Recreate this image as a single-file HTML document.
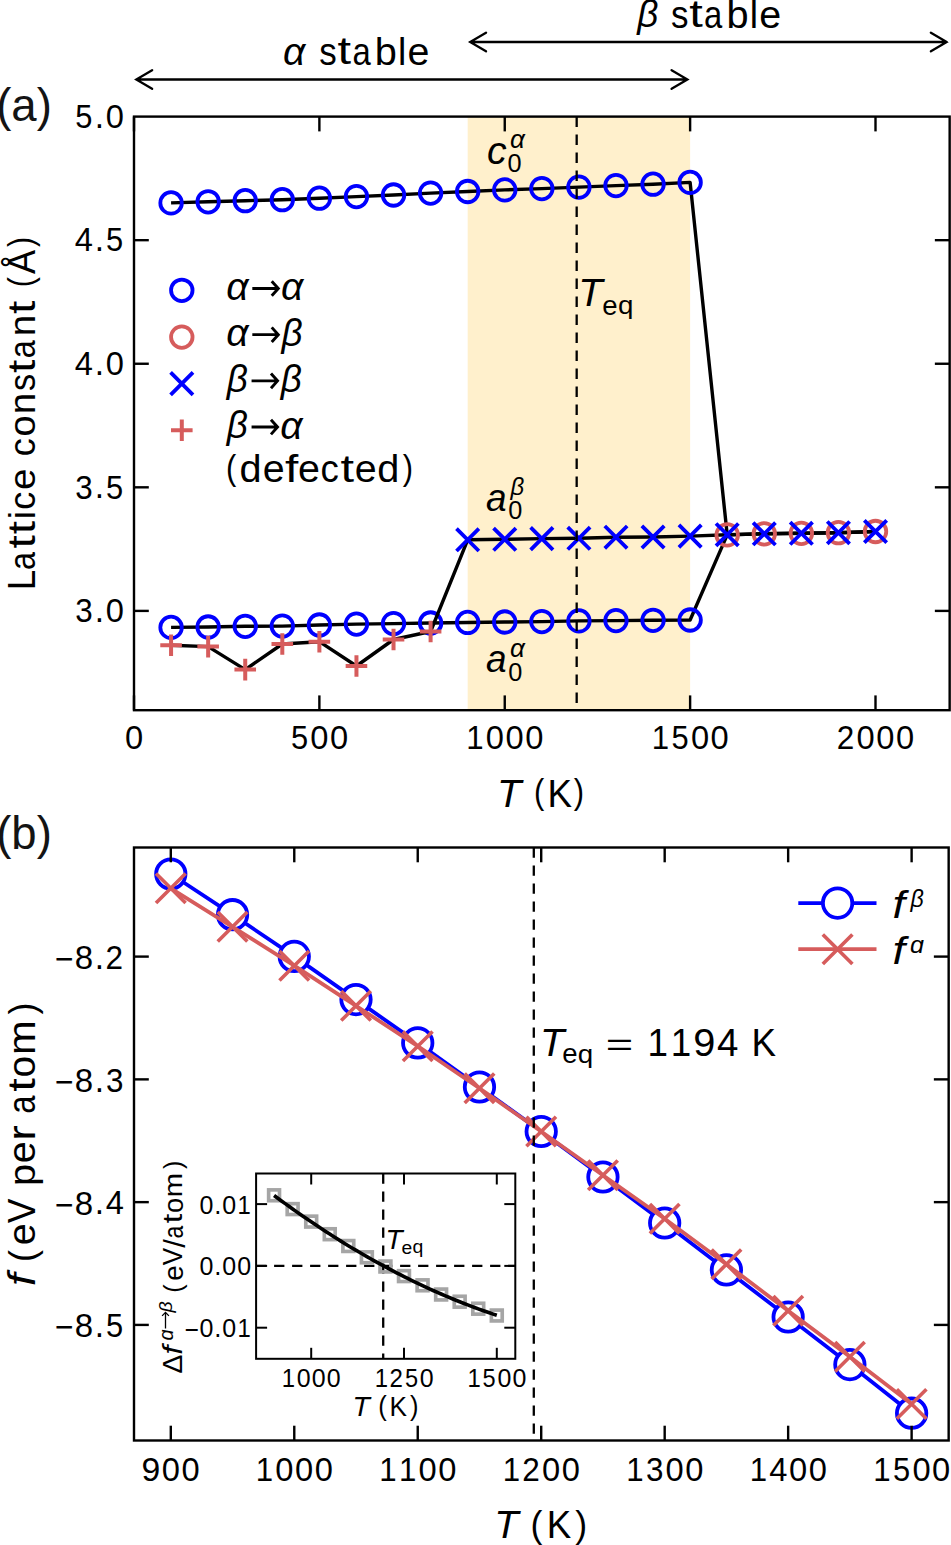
<!DOCTYPE html>
<html><head><meta charset="utf-8"><style>
html,body{margin:0;padding:0;background:#fff;width:951px;height:1545px;overflow:hidden}
svg{display:block}
text{font-family:"Liberation Sans",sans-serif;fill:#000}
text.i{font-style:italic}
.lab{font-family:"Liberation Sans",sans-serif;fill:#141414}
</style></head><body>
<svg width="951" height="1545" viewBox="0 0 951 1545">
<rect width="951" height="1545" fill="#fff"/>
<rect x="467.68" y="116.60" width="222.45" height="593.60" fill="#fff0cc"/>
<polyline points="171.07,202.9 208.15,201.8 245.23,200.7 282.3,199.7 319.38,198.2 356.45,196.6 393.53,195 430.6,193.1 467.68,191.5 504.75,189.9 541.83,188.6 578.9,187.1 615.98,185.6 653.05,184.2 690.12,182.4 727.2,534.9" fill="none" stroke="#000" stroke-width="3.4" stroke-linejoin="round" stroke-linecap="butt"/>
<polyline points="171.07,627.4 208.15,627 245.23,626.3 282.3,626.1 319.38,625 356.45,624.1 393.53,623.6 430.6,623 467.68,622.45 504.75,622 541.83,621.6 578.9,620.9 615.98,620.6 653.05,620.3 690.12,620 727.2,534.9 764.28,533.8 801.35,533.3 838.43,532.7 875.5,531.5" fill="none" stroke="#000" stroke-width="3.4" stroke-linejoin="round" stroke-linecap="butt"/>
<circle cx="171.07" cy="202.9" r="10.75" fill="none" stroke="#0000ff" stroke-width="3.8"/>
<circle cx="208.15" cy="201.8" r="10.75" fill="none" stroke="#0000ff" stroke-width="3.8"/>
<circle cx="245.23" cy="200.7" r="10.75" fill="none" stroke="#0000ff" stroke-width="3.8"/>
<circle cx="282.3" cy="199.7" r="10.75" fill="none" stroke="#0000ff" stroke-width="3.8"/>
<circle cx="319.38" cy="198.2" r="10.75" fill="none" stroke="#0000ff" stroke-width="3.8"/>
<circle cx="356.45" cy="196.6" r="10.75" fill="none" stroke="#0000ff" stroke-width="3.8"/>
<circle cx="393.53" cy="195" r="10.75" fill="none" stroke="#0000ff" stroke-width="3.8"/>
<circle cx="430.6" cy="193.1" r="10.75" fill="none" stroke="#0000ff" stroke-width="3.8"/>
<circle cx="467.68" cy="191.5" r="10.75" fill="none" stroke="#0000ff" stroke-width="3.8"/>
<circle cx="504.75" cy="189.9" r="10.75" fill="none" stroke="#0000ff" stroke-width="3.8"/>
<circle cx="541.83" cy="188.6" r="10.75" fill="none" stroke="#0000ff" stroke-width="3.8"/>
<circle cx="578.9" cy="187.1" r="10.75" fill="none" stroke="#0000ff" stroke-width="3.8"/>
<circle cx="615.98" cy="185.6" r="10.75" fill="none" stroke="#0000ff" stroke-width="3.8"/>
<circle cx="653.05" cy="184.2" r="10.75" fill="none" stroke="#0000ff" stroke-width="3.8"/>
<circle cx="690.12" cy="182.4" r="10.75" fill="none" stroke="#0000ff" stroke-width="3.8"/>
<circle cx="171.07" cy="627.4" r="10.75" fill="none" stroke="#0000ff" stroke-width="3.8"/>
<circle cx="208.15" cy="627" r="10.75" fill="none" stroke="#0000ff" stroke-width="3.8"/>
<circle cx="245.23" cy="626.3" r="10.75" fill="none" stroke="#0000ff" stroke-width="3.8"/>
<circle cx="282.3" cy="626.1" r="10.75" fill="none" stroke="#0000ff" stroke-width="3.8"/>
<circle cx="319.38" cy="625" r="10.75" fill="none" stroke="#0000ff" stroke-width="3.8"/>
<circle cx="356.45" cy="624.1" r="10.75" fill="none" stroke="#0000ff" stroke-width="3.8"/>
<circle cx="393.53" cy="623.6" r="10.75" fill="none" stroke="#0000ff" stroke-width="3.8"/>
<circle cx="430.6" cy="623" r="10.75" fill="none" stroke="#0000ff" stroke-width="3.8"/>
<circle cx="467.68" cy="622.45" r="10.75" fill="none" stroke="#0000ff" stroke-width="3.8"/>
<circle cx="504.75" cy="622" r="10.75" fill="none" stroke="#0000ff" stroke-width="3.8"/>
<circle cx="541.83" cy="621.6" r="10.75" fill="none" stroke="#0000ff" stroke-width="3.8"/>
<circle cx="578.9" cy="620.9" r="10.75" fill="none" stroke="#0000ff" stroke-width="3.8"/>
<circle cx="615.98" cy="620.6" r="10.75" fill="none" stroke="#0000ff" stroke-width="3.8"/>
<circle cx="653.05" cy="620.3" r="10.75" fill="none" stroke="#0000ff" stroke-width="3.8"/>
<circle cx="690.12" cy="620" r="10.75" fill="none" stroke="#0000ff" stroke-width="3.8"/>
<polyline points="171.07,645.2 208.15,646.6 245.23,669.6 282.3,644 319.38,641.7 356.45,666 393.53,639.5 430.6,631.5 467.68,539.8 504.75,539.3 541.83,538.6 578.9,538.3 615.98,537.2 653.05,537 690.12,536.1 727.2,534.7 764.28,533.8 801.35,533.3 838.43,532.7 875.5,531.5" fill="none" stroke="#000" stroke-width="3.4" stroke-linejoin="round" stroke-linecap="butt"/>
<circle cx="727.2" cy="534.9" r="10.75" fill="none" stroke="#d65c5c" stroke-width="3.8"/>
<circle cx="764.28" cy="533.8" r="10.75" fill="none" stroke="#d65c5c" stroke-width="3.8"/>
<circle cx="801.35" cy="533.3" r="10.75" fill="none" stroke="#d65c5c" stroke-width="3.8"/>
<circle cx="838.43" cy="532.7" r="10.75" fill="none" stroke="#d65c5c" stroke-width="3.8"/>
<circle cx="875.5" cy="531.5" r="10.75" fill="none" stroke="#d65c5c" stroke-width="3.8"/>
<path d="M456.48 528.6L478.88 551M456.48 551L478.88 528.6" stroke="#0000ff" stroke-width="3.8" fill="none"/>
<path d="M493.55 528.1L515.95 550.5M493.55 550.5L515.95 528.1" stroke="#0000ff" stroke-width="3.8" fill="none"/>
<path d="M530.62 527.4L553.03 549.8M530.62 549.8L553.03 527.4" stroke="#0000ff" stroke-width="3.8" fill="none"/>
<path d="M567.7 527.1L590.1 549.5M567.7 549.5L590.1 527.1" stroke="#0000ff" stroke-width="3.8" fill="none"/>
<path d="M604.77 526L627.18 548.4M604.77 548.4L627.18 526" stroke="#0000ff" stroke-width="3.8" fill="none"/>
<path d="M641.85 525.8L664.25 548.2M641.85 548.2L664.25 525.8" stroke="#0000ff" stroke-width="3.8" fill="none"/>
<path d="M678.92 524.9L701.33 547.3M678.92 547.3L701.33 524.9" stroke="#0000ff" stroke-width="3.8" fill="none"/>
<path d="M716 523.5L738.4 545.9M716 545.9L738.4 523.5" stroke="#0000ff" stroke-width="3.8" fill="none"/>
<path d="M753.08 522.6L775.48 545M753.08 545L775.48 522.6" stroke="#0000ff" stroke-width="3.8" fill="none"/>
<path d="M790.15 522.1L812.55 544.5M790.15 544.5L812.55 522.1" stroke="#0000ff" stroke-width="3.8" fill="none"/>
<path d="M827.23 521.5L849.63 543.9M827.23 543.9L849.63 521.5" stroke="#0000ff" stroke-width="3.8" fill="none"/>
<path d="M864.3 520.3L886.7 542.7M864.3 542.7L886.7 520.3" stroke="#0000ff" stroke-width="3.8" fill="none"/>
<path d="M160.27 645.2H181.88M171.07 634.4V656" stroke="#d65c5c" stroke-width="4" fill="none"/>
<path d="M197.35 646.6H218.95M208.15 635.8V657.4" stroke="#d65c5c" stroke-width="4" fill="none"/>
<path d="M234.43 669.6H256.03M245.23 658.8V680.4" stroke="#d65c5c" stroke-width="4" fill="none"/>
<path d="M271.5 644H293.1M282.3 633.2V654.8" stroke="#d65c5c" stroke-width="4" fill="none"/>
<path d="M308.57 641.7H330.18M319.38 630.9V652.5" stroke="#d65c5c" stroke-width="4" fill="none"/>
<path d="M345.65 666H367.25M356.45 655.2V676.8" stroke="#d65c5c" stroke-width="4" fill="none"/>
<path d="M382.73 639.5H404.33M393.53 628.7V650.3" stroke="#d65c5c" stroke-width="4" fill="none"/>
<path d="M419.8 631.5H441.4M430.6 620.7V642.3" stroke="#d65c5c" stroke-width="4" fill="none"/>
<line x1="576.68" y1="116.6" x2="576.68" y2="710.2" stroke="#000" stroke-width="2.3" stroke-linecap="butt" stroke-dasharray="10.3 7.7"/>
<rect x="134.0" y="116.6" width="815.65" height="593.60" fill="none" stroke="#000" stroke-width="2.4"/>
<line x1="134" y1="710.2" x2="134" y2="695.4" stroke="#000" stroke-width="2.4" stroke-linecap="butt"/>
<line x1="134" y1="116.6" x2="134" y2="131.4" stroke="#000" stroke-width="2.4" stroke-linecap="butt"/>
<line x1="319.38" y1="710.2" x2="319.38" y2="695.4" stroke="#000" stroke-width="2.4" stroke-linecap="butt"/>
<line x1="319.38" y1="116.6" x2="319.38" y2="131.4" stroke="#000" stroke-width="2.4" stroke-linecap="butt"/>
<line x1="504.75" y1="710.2" x2="504.75" y2="695.4" stroke="#000" stroke-width="2.4" stroke-linecap="butt"/>
<line x1="504.75" y1="116.6" x2="504.75" y2="131.4" stroke="#000" stroke-width="2.4" stroke-linecap="butt"/>
<line x1="690.12" y1="710.2" x2="690.12" y2="695.4" stroke="#000" stroke-width="2.4" stroke-linecap="butt"/>
<line x1="690.12" y1="116.6" x2="690.12" y2="131.4" stroke="#000" stroke-width="2.4" stroke-linecap="butt"/>
<line x1="875.5" y1="710.2" x2="875.5" y2="695.4" stroke="#000" stroke-width="2.4" stroke-linecap="butt"/>
<line x1="875.5" y1="116.6" x2="875.5" y2="131.4" stroke="#000" stroke-width="2.4" stroke-linecap="butt"/>
<line x1="134" y1="240.17" x2="148.8" y2="240.17" stroke="#000" stroke-width="2.4" stroke-linecap="butt"/>
<line x1="949.65" y1="240.17" x2="934.85" y2="240.17" stroke="#000" stroke-width="2.4" stroke-linecap="butt"/>
<line x1="134" y1="363.75" x2="148.8" y2="363.75" stroke="#000" stroke-width="2.4" stroke-linecap="butt"/>
<line x1="949.65" y1="363.75" x2="934.85" y2="363.75" stroke="#000" stroke-width="2.4" stroke-linecap="butt"/>
<line x1="134" y1="487.32" x2="148.8" y2="487.32" stroke="#000" stroke-width="2.4" stroke-linecap="butt"/>
<line x1="949.65" y1="487.32" x2="934.85" y2="487.32" stroke="#000" stroke-width="2.4" stroke-linecap="butt"/>
<line x1="134" y1="610.9" x2="148.8" y2="610.9" stroke="#000" stroke-width="2.4" stroke-linecap="butt"/>
<line x1="949.65" y1="610.9" x2="934.85" y2="610.9" stroke="#000" stroke-width="2.4" stroke-linecap="butt"/>
<g transform="translate(124.14,749.00)"><text class="r" font-size="33.12" transform="translate(0.77,0.12) scale(0.9868,1)">0</text></g>
<g transform="translate(289.79,749.00)"><text class="r" font-size="33.02" transform="translate(1.16,0.12) scale(0.9341,1)">5</text><text class="r" font-size="33.12" transform="translate(20.49,0.12) scale(0.9868,1)">0</text><text class="r" font-size="33.12" transform="translate(40.21,0.12) scale(0.9868,1)">0</text></g>
<g transform="translate(465.30,749.00)"><text class="r" font-size="32.85" transform="translate(1.03,0.00) scale(0.9502,1)">1</text><text class="r" font-size="33.12" transform="translate(20.49,0.12) scale(0.9868,1)">0</text><text class="r" font-size="33.12" transform="translate(40.21,0.12) scale(0.9868,1)">0</text><text class="r" font-size="33.12" transform="translate(59.94,0.12) scale(0.9868,1)">0</text></g>
<g transform="translate(650.68,749.00)"><text class="r" font-size="32.85" transform="translate(1.03,0.00) scale(0.9502,1)">1</text><text class="r" font-size="33.02" transform="translate(20.88,0.12) scale(0.9341,1)">5</text><text class="r" font-size="33.12" transform="translate(40.21,0.12) scale(0.9868,1)">0</text><text class="r" font-size="33.12" transform="translate(59.94,0.12) scale(0.9868,1)">0</text></g>
<g transform="translate(836.05,749.00)"><text class="r" font-size="32.95" transform="translate(0.69,0.00) scale(0.9559,1)">2</text><text class="r" font-size="33.12" transform="translate(20.49,0.12) scale(0.9868,1)">0</text><text class="r" font-size="33.12" transform="translate(40.21,0.12) scale(0.9868,1)">0</text><text class="r" font-size="33.12" transform="translate(59.94,0.12) scale(0.9868,1)">0</text></g>
<g transform="translate(74.10,127.70)"><text class="r" font-size="33.02" transform="translate(1.16,0.12) scale(0.9341,1)">5</text><text class="r" font-size="35.95" transform="translate(20.58,0.00) scale(0.9329,1)">.</text><text class="r" font-size="33.12" transform="translate(31.54,0.12) scale(0.9868,1)">0</text></g>
<g transform="translate(74.10,251.27)"><text class="r" font-size="32.85" transform="translate(0.76,0.00) scale(0.9949,1)">4</text><text class="r" font-size="35.95" transform="translate(20.58,0.00) scale(0.9329,1)">.</text><text class="r" font-size="33.02" transform="translate(31.93,0.12) scale(0.9341,1)">5</text></g>
<g transform="translate(74.10,374.85)"><text class="r" font-size="32.85" transform="translate(0.76,0.00) scale(0.9949,1)">4</text><text class="r" font-size="35.95" transform="translate(20.58,0.00) scale(0.9329,1)">.</text><text class="r" font-size="33.12" transform="translate(31.54,0.12) scale(0.9868,1)">0</text></g>
<g transform="translate(74.10,498.43)"><text class="r" font-size="33.12" transform="translate(1.17,0.12) scale(0.9477,1)">3</text><text class="r" font-size="35.95" transform="translate(20.58,0.00) scale(0.9329,1)">.</text><text class="r" font-size="33.02" transform="translate(31.93,0.12) scale(0.9341,1)">5</text></g>
<g transform="translate(74.10,622.00)"><text class="r" font-size="33.12" transform="translate(1.17,0.12) scale(0.9477,1)">3</text><text class="r" font-size="35.95" transform="translate(20.58,0.00) scale(0.9329,1)">.</text><text class="r" font-size="33.12" transform="translate(31.54,0.12) scale(0.9868,1)">0</text></g>
<g transform="translate(498.90,806.60)"><text class="i" font-size="38.68" transform="translate(-2.01,0.00) scale(1.0295,1)">T</text><text class="r" font-size="34.89" transform="translate(35.12,-2.41) scale(0.8842,1)">(</text><text class="r" font-size="38.68" transform="translate(48.70,0.00) scale(0.9518,1)">K</text><text class="r" font-size="34.89" transform="translate(74.82,-2.41) scale(0.8842,1)">)</text></g>
<g transform="translate(35.30,590.80) rotate(-90)"><text class="r" font-size="37.93" transform="translate(0.49,0.00) scale(0.9709,1)">L</text><text class="r" font-size="37.52" transform="translate(20.87,0.14) scale(0.8579,1)">a</text><text class="r" font-size="38.42" transform="translate(42.40,-0.30) scale(1.2454,1)">t</text><text class="r" font-size="38.42" transform="translate(56.58,-0.30) scale(1.2454,1)">t</text><text class="r" font-size="37.54" transform="translate(71.44,0.00) scale(0.9749,1)">i</text><text class="r" font-size="37.52" transform="translate(81.05,0.14) scale(0.9573,1)">c</text><text class="r" font-size="37.52" transform="translate(100.76,0.14) scale(1.0305,1)">e</text><text class="r" font-size="37.52" transform="translate(134.56,0.14) scale(0.9573,1)">c</text><text class="r" font-size="37.52" transform="translate(154.31,0.14) scale(1.0143,1)">o</text><text class="r" font-size="37.26" transform="translate(176.67,0.00) scale(1.0359,1)">n</text><text class="r" font-size="37.62" transform="translate(199.79,0.14) scale(0.9121,1)">s</text><text class="r" font-size="38.42" transform="translate(217.84,-0.30) scale(1.2454,1)">t</text><text class="r" font-size="37.52" transform="translate(232.56,0.14) scale(0.8579,1)">a</text><text class="r" font-size="37.26" transform="translate(254.54,0.00) scale(1.0359,1)">n</text><text class="r" font-size="38.42" transform="translate(276.92,-0.30) scale(1.2454,1)">t</text><text class="r" font-size="34.22" transform="translate(303.58,-2.37) scale(0.8842,1)">(</text><text class="r" font-size="38.08" transform="translate(316.70,0.00) scale(0.9470,1)">Å</text><text class="r" font-size="34.22" transform="translate(343.81,-2.37) scale(0.8842,1)">)</text></g>
<path d="M136.30 79.50H687.40M152.10 70.20L136.30 79.50L152.10 88.80M671.60 70.20L687.40 79.50L671.60 88.80" fill="none" stroke="#000" stroke-width="2.3" stroke-linejoin="miter" stroke-linecap="round"/>
<path d="M470.20 42.00H946.70M486.00 32.70L470.20 42.00L486.00 51.30M930.90 32.70L946.70 42.00L930.90 51.30" fill="none" stroke="#000" stroke-width="2.3" stroke-linejoin="miter" stroke-linecap="round"/>
<g transform="translate(282.60,64.60)"><text class="i" font-size="38.06" transform="translate(0.31,0.06) scale(1.0281,1)">α</text><text class="r" font-size="38.36" transform="translate(36.67,0.14) scale(0.9121,1)">s</text><text class="r" font-size="39.17" transform="translate(54.92,-0.31) scale(1.2454,1)">t</text><text class="r" font-size="38.26" transform="translate(69.79,0.14) scale(0.8579,1)">a</text><text class="r" font-size="38.47" transform="translate(92.11,0.14) scale(1.0323,1)">b</text><text class="r" font-size="38.27" transform="translate(115.45,0.00) scale(0.9749,1)">l</text><text class="r" font-size="38.26" transform="translate(125.01,0.14) scale(1.0305,1)">e</text></g>
<g transform="translate(636.30,27.70)"><text class="i" font-size="38.14" transform="translate(0.87,-0.32) scale(0.9680,1)">β</text><text class="r" font-size="38.36" transform="translate(34.70,0.14) scale(0.9121,1)">s</text><text class="r" font-size="39.17" transform="translate(52.95,-0.31) scale(1.2454,1)">t</text><text class="r" font-size="38.26" transform="translate(67.82,0.14) scale(0.8579,1)">a</text><text class="r" font-size="38.47" transform="translate(90.15,0.14) scale(1.0323,1)">b</text><text class="r" font-size="38.27" transform="translate(113.49,0.00) scale(0.9749,1)">l</text><text class="r" font-size="38.26" transform="translate(123.04,0.14) scale(1.0305,1)">e</text></g>
<circle cx="181.8" cy="290.3" r="10.75" fill="none" stroke="#0000ff" stroke-width="3.8"/>
<circle cx="181.8" cy="337.1" r="10.75" fill="none" stroke="#d65c5c" stroke-width="3.8"/>
<path d="M170.6 372.4L193 394.8M170.6 394.8L193 372.4" stroke="#0000ff" stroke-width="3.8" fill="none"/>
<path d="M171 430.2H192.6M181.8 419.4V441" stroke="#d65c5c" stroke-width="4" fill="none"/>
<g transform="translate(226.00,299.90)"><text class="i" font-size="38.06" transform="translate(0.31,0.06) scale(1.0281,1)">α</text><path d="M26.32 -11.44H51.95M45.74 -18.74L52.31 -11.44L45.74 -4.14" fill="none" stroke="#000" stroke-width="2.92" stroke-linejoin="miter" stroke-linecap="butt"/><text class="i" font-size="38.06" transform="translate(54.95,0.06) scale(1.0281,1)">α</text></g>
<g transform="translate(226.00,346.10)"><text class="i" font-size="38.06" transform="translate(0.31,0.06) scale(1.0281,1)">α</text><path d="M26.32 -11.44H51.95M45.74 -18.74L52.31 -11.44L45.74 -4.14" fill="none" stroke="#000" stroke-width="2.92" stroke-linejoin="miter" stroke-linecap="butt"/><text class="i" font-size="38.14" transform="translate(55.51,-0.32) scale(0.9680,1)">β</text></g>
<g transform="translate(226.00,392.30)"><text class="i" font-size="38.14" transform="translate(0.87,-0.32) scale(0.9680,1)">β</text><path d="M25.56 -11.44H51.18M44.97 -18.74L51.54 -11.44L44.97 -4.14" fill="none" stroke="#000" stroke-width="2.92" stroke-linejoin="miter" stroke-linecap="butt"/><text class="i" font-size="38.14" transform="translate(54.75,-0.32) scale(0.9680,1)">β</text></g>
<g transform="translate(226.00,438.50)"><text class="i" font-size="38.14" transform="translate(0.87,-0.32) scale(0.9680,1)">β</text><path d="M25.56 -11.44H51.18M44.97 -18.74L51.54 -11.44L44.97 -4.14" fill="none" stroke="#000" stroke-width="2.92" stroke-linejoin="miter" stroke-linecap="butt"/><text class="i" font-size="38.06" transform="translate(54.19,0.06) scale(1.0281,1)">α</text></g>
<g transform="translate(224.90,482.00)"><text class="r" font-size="34.89" transform="translate(1.22,-2.41) scale(0.8842,1)">(</text><text class="r" font-size="38.47" transform="translate(14.59,0.14) scale(1.0313,1)">d</text><text class="r" font-size="38.26" transform="translate(37.75,0.14) scale(1.0305,1)">e</text><text class="r" font-size="38.32" transform="translate(60.02,0.00) scale(1.2506,1)">f</text><text class="r" font-size="38.26" transform="translate(73.05,0.14) scale(1.0305,1)">e</text><text class="r" font-size="38.26" transform="translate(95.63,0.14) scale(0.9573,1)">c</text><text class="r" font-size="39.17" transform="translate(115.48,-0.31) scale(1.2454,1)">t</text><text class="r" font-size="38.26" transform="translate(129.89,0.14) scale(1.0305,1)">e</text><text class="r" font-size="38.47" transform="translate(152.35,0.14) scale(1.0313,1)">d</text><text class="r" font-size="34.89" transform="translate(177.92,-2.41) scale(0.8842,1)">)</text></g>
<g transform="translate(486.70,163.70)"><text class="i" font-size="38.26" transform="translate(0.39,0.14) scale(1.0256,1)">c</text></g>
<g transform="translate(506.80,172.30)"><text class="r" font-size="25.64" transform="translate(0.59,0.09) scale(0.9868,1)">0</text></g>
<g transform="translate(509.90,148.30)"><text class="i" font-size="25.34" transform="translate(0.20,0.04) scale(1.0281,1)">α</text></g>
<g transform="translate(485.30,511.00)"><text class="i" font-size="38.26" transform="translate(0.67,0.14) scale(0.9662,1)">a</text></g>
<g transform="translate(507.60,519.10)"><text class="r" font-size="25.64" transform="translate(0.59,0.09) scale(0.9868,1)">0</text></g>
<g transform="translate(510.00,495.60)"><text class="i" font-size="24.77" transform="translate(0.56,-0.21) scale(0.9680,1)">β</text></g>
<g transform="translate(485.30,672.10)"><text class="i" font-size="38.26" transform="translate(0.67,0.14) scale(0.9662,1)">a</text></g>
<g transform="translate(507.60,680.70)"><text class="r" font-size="25.64" transform="translate(0.59,0.09) scale(0.9868,1)">0</text></g>
<g transform="translate(509.90,656.50)"><text class="i" font-size="25.34" transform="translate(0.20,0.04) scale(1.0281,1)">α</text></g>
<g transform="translate(580.20,306.00)"><text class="i" font-size="38.68" transform="translate(-2.01,0.00) scale(1.0295,1)">T</text></g>
<g transform="translate(602.10,314.40)"><text class="r" font-size="26.73" transform="translate(0.24,0.10) scale(1.0305,1)">e</text><text class="r" font-size="26.27" transform="translate(15.93,-0.15) scale(1.0539,1)">q</text></g>
<text font-size="46" class="lab" transform="translate(-3.8,121.3) scale(0.99,1)">(a)</text>
<text font-size="46" class="lab" transform="translate(-3.8,848.6) scale(0.99,1)">(b)</text>
<polyline points="170.8,874 232.53,914.7 294.27,956.4 356,999.6 417.74,1042.9 479.47,1087 541.21,1131.5 602.94,1177 664.68,1223 726.41,1269.9 788.15,1317 849.88,1364.6 911.62,1413.2" fill="none" stroke="#0000ff" stroke-width="3.8" stroke-linejoin="round" stroke-linecap="butt"/>
<circle cx="170.8" cy="874" r="14.7" fill="#fff" stroke="#0000ff" stroke-width="3.8"/>
<circle cx="232.53" cy="914.7" r="14.7" fill="#fff" stroke="#0000ff" stroke-width="3.8"/>
<circle cx="294.27" cy="956.4" r="14.7" fill="#fff" stroke="#0000ff" stroke-width="3.8"/>
<circle cx="356" cy="999.6" r="14.7" fill="#fff" stroke="#0000ff" stroke-width="3.8"/>
<circle cx="417.74" cy="1042.9" r="14.7" fill="#fff" stroke="#0000ff" stroke-width="3.8"/>
<circle cx="479.47" cy="1087" r="14.7" fill="#fff" stroke="#0000ff" stroke-width="3.8"/>
<circle cx="541.21" cy="1131.5" r="14.7" fill="#fff" stroke="#0000ff" stroke-width="3.8"/>
<circle cx="602.94" cy="1177" r="14.7" fill="#fff" stroke="#0000ff" stroke-width="3.8"/>
<circle cx="664.68" cy="1223" r="14.7" fill="#fff" stroke="#0000ff" stroke-width="3.8"/>
<circle cx="726.41" cy="1269.9" r="14.7" fill="#fff" stroke="#0000ff" stroke-width="3.8"/>
<circle cx="788.15" cy="1317" r="14.7" fill="#fff" stroke="#0000ff" stroke-width="3.8"/>
<circle cx="849.88" cy="1364.6" r="14.7" fill="#fff" stroke="#0000ff" stroke-width="3.8"/>
<circle cx="911.62" cy="1413.2" r="14.7" fill="#fff" stroke="#0000ff" stroke-width="3.8"/>
<polyline points="170.8,888.3 232.53,926.8 294.27,965.7 356,1005.8 417.74,1046.2 479.47,1088.3 541.21,1131.5 602.94,1175.3 664.68,1218.8 726.41,1264.2 788.15,1310.7 849.88,1356.7 911.62,1404" fill="none" stroke="#d65c5c" stroke-width="3.8" stroke-linejoin="round" stroke-linecap="butt"/>
<path d="M156 873.5L185.6 903.1M156 903.1L185.6 873.5" stroke="#d65c5c" stroke-width="3.6" fill="none"/>
<path d="M217.73 912L247.34 941.6M217.73 941.6L247.34 912" stroke="#d65c5c" stroke-width="3.6" fill="none"/>
<path d="M279.47 950.9L309.07 980.5M279.47 980.5L309.07 950.9" stroke="#d65c5c" stroke-width="3.6" fill="none"/>
<path d="M341.2 991L370.81 1020.6M341.2 1020.6L370.81 991" stroke="#d65c5c" stroke-width="3.6" fill="none"/>
<path d="M402.94 1031.4L432.54 1061M402.94 1061L432.54 1031.4" stroke="#d65c5c" stroke-width="3.6" fill="none"/>
<path d="M464.67 1073.5L494.27 1103.1M464.67 1103.1L494.27 1073.5" stroke="#d65c5c" stroke-width="3.6" fill="none"/>
<path d="M526.41 1116.7L556.01 1146.3M526.41 1146.3L556.01 1116.7" stroke="#d65c5c" stroke-width="3.6" fill="none"/>
<path d="M588.14 1160.5L617.74 1190.1M588.14 1190.1L617.74 1160.5" stroke="#d65c5c" stroke-width="3.6" fill="none"/>
<path d="M649.88 1204L679.48 1233.6M649.88 1233.6L679.48 1204" stroke="#d65c5c" stroke-width="3.6" fill="none"/>
<path d="M711.62 1249.4L741.21 1279M711.62 1279L741.21 1249.4" stroke="#d65c5c" stroke-width="3.6" fill="none"/>
<path d="M773.35 1295.9L802.95 1325.5M773.35 1325.5L802.95 1295.9" stroke="#d65c5c" stroke-width="3.6" fill="none"/>
<path d="M835.09 1341.9L864.68 1371.5M835.09 1371.5L864.68 1341.9" stroke="#d65c5c" stroke-width="3.6" fill="none"/>
<path d="M896.82 1389.2L926.42 1418.8M896.82 1418.8L926.42 1389.2" stroke="#d65c5c" stroke-width="3.6" fill="none"/>
<line x1="533.8" y1="847.5" x2="533.8" y2="1440.5" stroke="#000" stroke-width="2.3" stroke-linecap="butt" stroke-dasharray="10.3 7.7"/>
<rect x="134.0" y="847.5" width="814.66" height="593.00" fill="none" stroke="#000" stroke-width="2.4"/>
<line x1="170.8" y1="1440.5" x2="170.8" y2="1425.7" stroke="#000" stroke-width="2.4" stroke-linecap="butt"/>
<line x1="170.8" y1="847.5" x2="170.8" y2="862.3" stroke="#000" stroke-width="2.4" stroke-linecap="butt"/>
<line x1="294.27" y1="1440.5" x2="294.27" y2="1425.7" stroke="#000" stroke-width="2.4" stroke-linecap="butt"/>
<line x1="294.27" y1="847.5" x2="294.27" y2="862.3" stroke="#000" stroke-width="2.4" stroke-linecap="butt"/>
<line x1="417.74" y1="1440.5" x2="417.74" y2="1425.7" stroke="#000" stroke-width="2.4" stroke-linecap="butt"/>
<line x1="417.74" y1="847.5" x2="417.74" y2="862.3" stroke="#000" stroke-width="2.4" stroke-linecap="butt"/>
<line x1="541.21" y1="1440.5" x2="541.21" y2="1425.7" stroke="#000" stroke-width="2.4" stroke-linecap="butt"/>
<line x1="541.21" y1="847.5" x2="541.21" y2="862.3" stroke="#000" stroke-width="2.4" stroke-linecap="butt"/>
<line x1="664.68" y1="1440.5" x2="664.68" y2="1425.7" stroke="#000" stroke-width="2.4" stroke-linecap="butt"/>
<line x1="664.68" y1="847.5" x2="664.68" y2="862.3" stroke="#000" stroke-width="2.4" stroke-linecap="butt"/>
<line x1="788.15" y1="1440.5" x2="788.15" y2="1425.7" stroke="#000" stroke-width="2.4" stroke-linecap="butt"/>
<line x1="788.15" y1="847.5" x2="788.15" y2="862.3" stroke="#000" stroke-width="2.4" stroke-linecap="butt"/>
<line x1="911.62" y1="1440.5" x2="911.62" y2="1425.7" stroke="#000" stroke-width="2.4" stroke-linecap="butt"/>
<line x1="911.62" y1="847.5" x2="911.62" y2="862.3" stroke="#000" stroke-width="2.4" stroke-linecap="butt"/>
<line x1="134" y1="956.6" x2="148.8" y2="956.6" stroke="#000" stroke-width="2.4" stroke-linecap="butt"/>
<line x1="948.66" y1="956.6" x2="933.86" y2="956.6" stroke="#000" stroke-width="2.4" stroke-linecap="butt"/>
<line x1="134" y1="1079.37" x2="148.8" y2="1079.37" stroke="#000" stroke-width="2.4" stroke-linecap="butt"/>
<line x1="948.66" y1="1079.37" x2="933.86" y2="1079.37" stroke="#000" stroke-width="2.4" stroke-linecap="butt"/>
<line x1="134" y1="1202.14" x2="148.8" y2="1202.14" stroke="#000" stroke-width="2.4" stroke-linecap="butt"/>
<line x1="948.66" y1="1202.14" x2="933.86" y2="1202.14" stroke="#000" stroke-width="2.4" stroke-linecap="butt"/>
<line x1="134" y1="1324.91" x2="148.8" y2="1324.91" stroke="#000" stroke-width="2.4" stroke-linecap="butt"/>
<line x1="948.66" y1="1324.91" x2="933.86" y2="1324.91" stroke="#000" stroke-width="2.4" stroke-linecap="butt"/>
<g transform="translate(141.22,1480.70)"><text class="r" font-size="33.12" transform="translate(0.37,0.12) scale(1.0192,1)">9</text><text class="r" font-size="33.12" transform="translate(20.49,0.12) scale(0.9868,1)">0</text><text class="r" font-size="33.12" transform="translate(40.21,0.12) scale(0.9868,1)">0</text></g>
<g transform="translate(254.82,1480.70)"><text class="r" font-size="32.85" transform="translate(1.03,0.00) scale(0.9502,1)">1</text><text class="r" font-size="33.12" transform="translate(20.49,0.12) scale(0.9868,1)">0</text><text class="r" font-size="33.12" transform="translate(40.21,0.12) scale(0.9868,1)">0</text><text class="r" font-size="33.12" transform="translate(59.94,0.12) scale(0.9868,1)">0</text></g>
<g transform="translate(378.29,1480.70)"><text class="r" font-size="32.85" transform="translate(1.03,0.00) scale(0.9502,1)">1</text><text class="r" font-size="32.85" transform="translate(20.75,0.00) scale(0.9502,1)">1</text><text class="r" font-size="33.12" transform="translate(40.21,0.12) scale(0.9868,1)">0</text><text class="r" font-size="33.12" transform="translate(59.94,0.12) scale(0.9868,1)">0</text></g>
<g transform="translate(501.76,1480.70)"><text class="r" font-size="32.85" transform="translate(1.03,0.00) scale(0.9502,1)">1</text><text class="r" font-size="32.95" transform="translate(20.41,0.00) scale(0.9559,1)">2</text><text class="r" font-size="33.12" transform="translate(40.21,0.12) scale(0.9868,1)">0</text><text class="r" font-size="33.12" transform="translate(59.94,0.12) scale(0.9868,1)">0</text></g>
<g transform="translate(625.23,1480.70)"><text class="r" font-size="32.85" transform="translate(1.03,0.00) scale(0.9502,1)">1</text><text class="r" font-size="33.12" transform="translate(20.89,0.12) scale(0.9477,1)">3</text><text class="r" font-size="33.12" transform="translate(40.21,0.12) scale(0.9868,1)">0</text><text class="r" font-size="33.12" transform="translate(59.94,0.12) scale(0.9868,1)">0</text></g>
<g transform="translate(748.70,1480.70)"><text class="r" font-size="32.85" transform="translate(1.03,0.00) scale(0.9502,1)">1</text><text class="r" font-size="32.85" transform="translate(20.49,0.00) scale(0.9949,1)">4</text><text class="r" font-size="33.12" transform="translate(40.21,0.12) scale(0.9868,1)">0</text><text class="r" font-size="33.12" transform="translate(59.94,0.12) scale(0.9868,1)">0</text></g>
<g transform="translate(872.17,1480.70)"><text class="r" font-size="32.85" transform="translate(1.03,0.00) scale(0.9502,1)">1</text><text class="r" font-size="33.02" transform="translate(20.88,0.12) scale(0.9341,1)">5</text><text class="r" font-size="33.12" transform="translate(40.21,0.12) scale(0.9868,1)">0</text><text class="r" font-size="33.12" transform="translate(59.94,0.12) scale(0.9868,1)">0</text></g>
<g transform="translate(47.53,968.90)"><text class="r" font-size="36.09" transform="translate(7.23,2.28) scale(0.8839,1)">−</text><text class="r" font-size="33.12" transform="translate(27.25,0.12) scale(0.9975,1)">8</text><text class="r" font-size="35.95" transform="translate(47.15,0.00) scale(0.9329,1)">.</text><text class="r" font-size="32.95" transform="translate(58.04,0.00) scale(0.9559,1)">2</text></g>
<g transform="translate(47.53,1091.67)"><text class="r" font-size="36.09" transform="translate(7.23,2.28) scale(0.8839,1)">−</text><text class="r" font-size="33.12" transform="translate(27.25,0.12) scale(0.9975,1)">8</text><text class="r" font-size="35.95" transform="translate(47.15,0.00) scale(0.9329,1)">.</text><text class="r" font-size="33.12" transform="translate(58.52,0.12) scale(0.9477,1)">3</text></g>
<g transform="translate(47.53,1214.44)"><text class="r" font-size="36.09" transform="translate(7.23,2.28) scale(0.8839,1)">−</text><text class="r" font-size="33.12" transform="translate(27.25,0.12) scale(0.9975,1)">8</text><text class="r" font-size="35.95" transform="translate(47.15,0.00) scale(0.9329,1)">.</text><text class="r" font-size="32.85" transform="translate(58.12,0.00) scale(0.9949,1)">4</text></g>
<g transform="translate(47.53,1337.21)"><text class="r" font-size="36.09" transform="translate(7.23,2.28) scale(0.8839,1)">−</text><text class="r" font-size="33.12" transform="translate(27.25,0.12) scale(0.9975,1)">8</text><text class="r" font-size="35.95" transform="translate(47.15,0.00) scale(0.9329,1)">.</text><text class="r" font-size="33.02" transform="translate(58.51,0.12) scale(0.9341,1)">5</text></g>
<g transform="translate(496.30,1537.90)"><text class="i" font-size="38.57" transform="translate(-2.00,0.00) scale(1.0295,1)">T</text><text class="r" font-size="37.70" transform="translate(34.14,-0.71) scale(0.9467,1)">(</text><text class="r" font-size="38.57" transform="translate(50.56,0.00) scale(0.9518,1)">K</text><text class="r" font-size="37.70" transform="translate(78.85,-0.71) scale(0.9467,1)">)</text></g>
<g transform="translate(35.30,1286.90) rotate(-90)"><text class="i" font-size="38.27" transform="translate(0.95,0.00) scale(1.1834,1)">f</text><text class="r" font-size="37.81" transform="translate(24.79,-0.71) scale(0.9467,1)">(</text><text class="r" font-size="38.26" transform="translate(41.53,0.14) scale(1.0305,1)">e</text><text class="r" font-size="38.68" transform="translate(63.77,0.00) scale(0.9577,1)">V</text><text class="r" font-size="37.62" transform="translate(100.97,-0.22) scale(1.0554,1)">p</text><text class="r" font-size="38.26" transform="translate(123.72,0.14) scale(1.0305,1)">e</text><text class="r" font-size="37.99" transform="translate(146.05,0.00) scale(1.2310,1)">r</text><text class="r" font-size="38.26" transform="translate(173.25,0.14) scale(0.8579,1)">a</text><text class="r" font-size="39.17" transform="translate(195.06,-0.31) scale(1.2454,1)">t</text><text class="r" font-size="38.26" transform="translate(209.51,0.14) scale(1.0143,1)">o</text><text class="r" font-size="37.99" transform="translate(232.01,0.00) scale(1.0947,1)">m</text><text class="r" font-size="37.81" transform="translate(272.49,-0.71) scale(0.9467,1)">)</text></g>
<line x1="798.3" y1="903.1" x2="876.5" y2="903.1" stroke="#0000ff" stroke-width="3.8" stroke-linecap="butt"/>
<circle cx="837.6" cy="903.1" r="14.7" fill="#fff" stroke="#0000ff" stroke-width="3.8"/>
<line x1="798.3" y1="949.2" x2="876.5" y2="949.2" stroke="#d65c5c" stroke-width="3.8" stroke-linecap="butt"/>
<path d="M822.8 934.4L852.4 964M822.8 964L852.4 934.4" stroke="#d65c5c" stroke-width="3.6" fill="none"/>
<g transform="translate(891.50,917.60)"><text class="i" font-size="38.27" transform="translate(0.95,0.00) scale(1.1834,1)">f</text></g>
<g transform="translate(910.00,906.90)"><text class="i" font-size="24.04" transform="translate(0.55,-0.20) scale(0.9680,1)">β</text></g>
<g transform="translate(891.50,963.90)"><text class="i" font-size="38.27" transform="translate(0.95,0.00) scale(1.1834,1)">f</text></g>
<g transform="translate(909.80,953.40)"><text class="i" font-size="24.42" transform="translate(0.24,0.08) scale(1.0287,1)">ɑ</text></g>
<g transform="translate(542.00,1056.00)"><text class="i" font-size="38.68" transform="translate(-2.01,0.00) scale(1.0295,1)">T</text></g>
<g transform="translate(561.90,1062.90)"><text class="r" font-size="26.73" transform="translate(0.24,0.10) scale(1.0305,1)">e</text><text class="r" font-size="26.27" transform="translate(15.93,-0.15) scale(1.0539,1)">q</text></g>
<g transform="translate(604.20,1056.00)"><text class="r" font-size="31.97" transform="translate(1.57,-0.90) scale(1.4712,1)">=</text><text class="r" font-size="38.68" transform="translate(43.40,0.00) scale(0.9502,1)">1</text><text class="r" font-size="38.68" transform="translate(66.62,0.00) scale(0.9502,1)">1</text><text class="r" font-size="38.99" transform="translate(89.07,0.14) scale(1.0192,1)">9</text><text class="r" font-size="38.68" transform="translate(112.75,0.00) scale(0.9949,1)">4</text><text class="r" font-size="38.68" transform="translate(147.24,0.00) scale(0.9518,1)">K</text></g>
<rect x="256.1" y="1173.5" width="259.20" height="185.30" fill="#fff" stroke="none"/>
<line x1="256.1" y1="1265.9" x2="515.3" y2="1265.9" stroke="#000" stroke-width="2.3" stroke-linecap="butt" stroke-dasharray="10.3 7.7"/>
<line x1="383.21" y1="1173.5" x2="383.21" y2="1358.8" stroke="#000" stroke-width="2.3" stroke-linecap="butt" stroke-dasharray="10.3 7.7"/>
<rect x="268.65" y="1189.88" width="10.85" height="10.85" fill="none" stroke="#a5a5a5" stroke-width="3.65"/>
<rect x="287.21" y="1203.67" width="10.85" height="10.85" fill="none" stroke="#a5a5a5" stroke-width="3.65"/>
<rect x="305.77" y="1216.17" width="10.85" height="10.85" fill="none" stroke="#a5a5a5" stroke-width="3.65"/>
<rect x="324.33" y="1228.78" width="10.85" height="10.85" fill="none" stroke="#a5a5a5" stroke-width="3.65"/>
<rect x="342.89" y="1240.58" width="10.85" height="10.85" fill="none" stroke="#a5a5a5" stroke-width="3.65"/>
<rect x="361.45" y="1251.88" width="10.85" height="10.85" fill="none" stroke="#a5a5a5" stroke-width="3.65"/>
<rect x="380.01" y="1261.08" width="10.85" height="10.85" fill="none" stroke="#a5a5a5" stroke-width="3.65"/>
<rect x="398.57" y="1270.67" width="10.85" height="10.85" fill="none" stroke="#a5a5a5" stroke-width="3.65"/>
<rect x="417.13" y="1279.88" width="10.85" height="10.85" fill="none" stroke="#a5a5a5" stroke-width="3.65"/>
<rect x="435.69" y="1289.08" width="10.85" height="10.85" fill="none" stroke="#a5a5a5" stroke-width="3.65"/>
<rect x="454.25" y="1296.28" width="10.85" height="10.85" fill="none" stroke="#a5a5a5" stroke-width="3.65"/>
<rect x="472.81" y="1303.28" width="10.85" height="10.85" fill="none" stroke="#a5a5a5" stroke-width="3.65"/>
<rect x="491.37" y="1310.08" width="10.85" height="10.85" fill="none" stroke="#a5a5a5" stroke-width="3.65"/>
<polyline points="274.08,1195.46 277.79,1198.22 281.5,1200.95 285.22,1203.65 288.93,1206.33 292.64,1208.98 296.35,1211.6 300.06,1214.2 303.78,1216.78 307.49,1219.33 311.2,1221.85 314.91,1224.35 318.62,1226.82 322.34,1229.27 326.05,1231.69 329.76,1234.08 333.47,1236.45 337.18,1238.8 340.9,1241.12 344.61,1243.41 348.32,1245.67 352.03,1247.92 355.74,1250.13 359.46,1252.32 363.17,1254.49 366.88,1256.62 370.59,1258.74 374.3,1260.83 378.02,1262.89 381.73,1264.92 385.44,1266.93 389.15,1268.92 392.86,1270.88 396.58,1272.81 400.29,1274.72 404,1276.6 407.71,1278.46 411.42,1280.29 415.14,1282.09 418.85,1283.87 422.56,1285.63 426.27,1287.36 429.98,1289.06 433.7,1290.74 437.41,1292.39 441.12,1294.01 444.83,1295.61 448.54,1297.19 452.26,1298.74 455.97,1300.26 459.68,1301.76 463.39,1303.23 467.1,1304.68 470.82,1306.1 474.53,1307.49 478.24,1308.86 481.95,1310.21 485.66,1311.52 489.38,1312.82 493.09,1314.08 496.8,1315.33" fill="none" stroke="#000" stroke-width="3.6" stroke-linejoin="round" stroke-linecap="butt"/>
<rect x="256.1" y="1173.5" width="259.20" height="185.30" fill="none" stroke="#000" stroke-width="2.0"/>
<line x1="311.2" y1="1358.8" x2="311.2" y2="1347.8" stroke="#000" stroke-width="2" stroke-linecap="butt"/>
<line x1="311.2" y1="1173.5" x2="311.2" y2="1184.5" stroke="#000" stroke-width="2" stroke-linecap="butt"/>
<line x1="404" y1="1358.8" x2="404" y2="1347.8" stroke="#000" stroke-width="2" stroke-linecap="butt"/>
<line x1="404" y1="1173.5" x2="404" y2="1184.5" stroke="#000" stroke-width="2" stroke-linecap="butt"/>
<line x1="496.8" y1="1358.8" x2="496.8" y2="1347.8" stroke="#000" stroke-width="2" stroke-linecap="butt"/>
<line x1="496.8" y1="1173.5" x2="496.8" y2="1184.5" stroke="#000" stroke-width="2" stroke-linecap="butt"/>
<line x1="256.1" y1="1204.1" x2="267.1" y2="1204.1" stroke="#000" stroke-width="2" stroke-linecap="butt"/>
<line x1="515.3" y1="1204.1" x2="504.3" y2="1204.1" stroke="#000" stroke-width="2" stroke-linecap="butt"/>
<line x1="256.1" y1="1265.9" x2="267.1" y2="1265.9" stroke="#000" stroke-width="2" stroke-linecap="butt"/>
<line x1="515.3" y1="1265.9" x2="504.3" y2="1265.9" stroke="#000" stroke-width="2" stroke-linecap="butt"/>
<line x1="256.1" y1="1327.7" x2="267.1" y2="1327.7" stroke="#000" stroke-width="2" stroke-linecap="butt"/>
<line x1="515.3" y1="1327.7" x2="504.3" y2="1327.7" stroke="#000" stroke-width="2" stroke-linecap="butt"/>
<g transform="translate(281.04,1386.70)"><text class="r" font-size="25.11" transform="translate(0.79,0.00) scale(0.9502,1)">1</text><text class="r" font-size="25.32" transform="translate(15.67,0.09) scale(0.9868,1)">0</text><text class="r" font-size="25.32" transform="translate(30.74,0.09) scale(0.9868,1)">0</text><text class="r" font-size="25.32" transform="translate(45.82,0.09) scale(0.9868,1)">0</text></g>
<g transform="translate(373.84,1386.70)"><text class="r" font-size="25.11" transform="translate(0.79,0.00) scale(0.9502,1)">1</text><text class="r" font-size="25.19" transform="translate(15.60,0.00) scale(0.9559,1)">2</text><text class="r" font-size="25.24" transform="translate(31.04,0.09) scale(0.9341,1)">5</text><text class="r" font-size="25.32" transform="translate(45.82,0.09) scale(0.9868,1)">0</text></g>
<g transform="translate(466.64,1386.70)"><text class="r" font-size="25.11" transform="translate(0.79,0.00) scale(0.9502,1)">1</text><text class="r" font-size="25.24" transform="translate(15.96,0.09) scale(0.9341,1)">5</text><text class="r" font-size="25.32" transform="translate(30.74,0.09) scale(0.9868,1)">0</text><text class="r" font-size="25.32" transform="translate(45.82,0.09) scale(0.9868,1)">0</text></g>
<g transform="translate(198.93,1213.50)"><text class="r" font-size="25.32" transform="translate(0.59,0.09) scale(0.9868,1)">0</text><text class="r" font-size="27.49" transform="translate(15.27,0.00) scale(0.9329,1)">.</text><text class="r" font-size="25.32" transform="translate(23.20,0.09) scale(0.9868,1)">0</text><text class="r" font-size="25.11" transform="translate(38.48,0.00) scale(0.9502,1)">1</text></g>
<g transform="translate(198.93,1275.30)"><text class="r" font-size="25.32" transform="translate(0.59,0.09) scale(0.9868,1)">0</text><text class="r" font-size="27.49" transform="translate(15.27,0.00) scale(0.9329,1)">.</text><text class="r" font-size="25.32" transform="translate(23.20,0.09) scale(0.9868,1)">0</text><text class="r" font-size="25.32" transform="translate(38.28,0.09) scale(0.9868,1)">0</text></g>
<g transform="translate(179.07,1337.10)"><text class="r" font-size="27.59" transform="translate(5.53,1.75) scale(0.8839,1)">−</text><text class="r" font-size="25.32" transform="translate(20.45,0.09) scale(0.9868,1)">0</text><text class="r" font-size="27.49" transform="translate(35.13,0.00) scale(0.9329,1)">.</text><text class="r" font-size="25.32" transform="translate(43.06,0.09) scale(0.9868,1)">0</text><text class="r" font-size="25.11" transform="translate(58.34,0.00) scale(0.9502,1)">1</text></g>
<g transform="translate(353.90,1415.80)"><text class="i" font-size="27.55" transform="translate(-1.43,0.00) scale(1.0295,1)">T</text><text class="r" font-size="26.93" transform="translate(24.39,-0.51) scale(0.9467,1)">(</text><text class="r" font-size="27.55" transform="translate(35.69,0.00) scale(0.9518,1)">K</text><text class="r" font-size="26.93" transform="translate(56.05,-0.51) scale(0.9467,1)">)</text></g>
<g transform="translate(386.80,1248.70)"><text class="i" font-size="27.13" transform="translate(-1.41,0.00) scale(1.0295,1)">T</text></g>
<g transform="translate(401.30,1253.50)"><text class="r" font-size="18.76" transform="translate(0.17,0.07) scale(1.0305,1)">e</text><text class="r" font-size="18.44" transform="translate(11.18,-0.10) scale(1.0539,1)">q</text></g>
<g transform="translate(182.40,1372.80) rotate(-90)"><text class="r" font-size="27.13" transform="translate(-0.64,0.00) scale(1.0370,1)">Δ</text><text class="i" font-size="26.84" transform="translate(18.18,0.00) scale(1.1834,1)">f</text></g>
<g transform="rotate(-90)"><text class="i" font-size="19.53" transform="translate(-1340.47,172.80) scale(1.0125,1)">ɑ</text></g>
<path d="M165.5 1328.5V1312.6M162.1 1315.9L165.5 1312.4L168.9 1315.9" fill="none" stroke="#000" stroke-width="1.3"/>
<g transform="rotate(-90)"><text class="i" font-size="18.35" transform="translate(-1312.62,172.09) scale(1.0687,1)">β</text></g>
<g transform="translate(182.40,1292.99) rotate(-90)"><text class="r" font-size="26.52" transform="translate(0.24,-0.50) scale(0.9467,1)">(</text><text class="r" font-size="26.83" transform="translate(12.22,0.10) scale(1.0305,1)">e</text><text class="r" font-size="27.13" transform="translate(27.82,0.00) scale(0.9577,1)">V</text><text class="r" font-size="28.65" transform="translate(45.25,2.10) scale(1.0837,1)">/</text><text class="r" font-size="26.83" transform="translate(54.43,0.10) scale(0.8579,1)">a</text><text class="r" font-size="27.47" transform="translate(69.73,-0.21) scale(1.2454,1)">t</text><text class="r" font-size="26.83" transform="translate(79.87,0.10) scale(1.0143,1)">o</text><text class="r" font-size="26.65" transform="translate(95.65,0.00) scale(1.0947,1)">m</text><text class="r" font-size="26.52" transform="translate(124.09,-0.50) scale(0.9467,1)">)</text></g>
</svg>
</body></html>
